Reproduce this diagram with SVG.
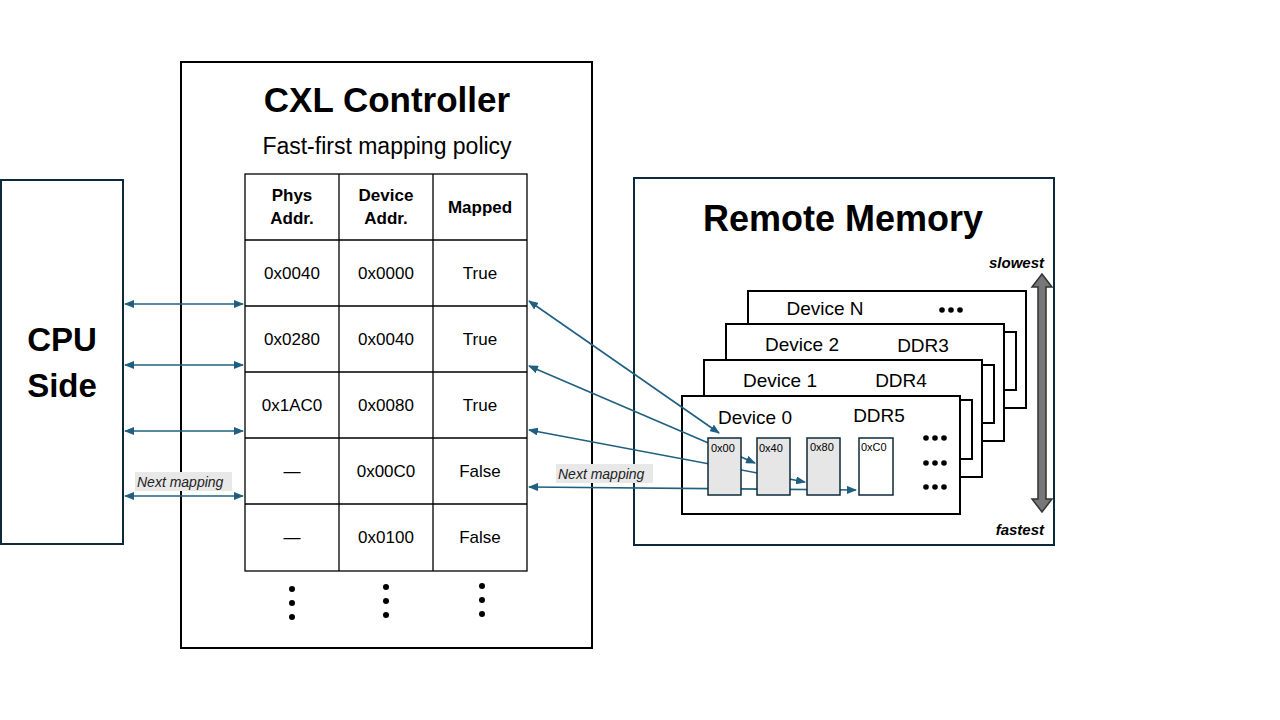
<svg xmlns="http://www.w3.org/2000/svg" width="1280" height="720" viewBox="0 0 1280 720">
<style>
text{font-family:"Liberation Sans",Arial,sans-serif;fill:#000}
.box{fill:#fff;stroke:#0d2a3a;stroke-width:2}
.bk{fill:#fff;stroke:#000;stroke-width:2}
.cell{fill:#fff;stroke:#000;stroke-width:1.3}
.mem{fill:#e6e6e6;stroke:#0d2a3a;stroke-width:1.5}
.c{stroke:#1f6080;stroke-width:1.6;fill:none;marker-end:url(#ah)}
.cc{stroke:#1f6080;stroke-width:1.6;fill:none;marker-end:url(#ah);marker-start:url(#as)}
.t{font-size:17px;text-anchor:middle}
.h{font-size:17px;font-weight:bold;text-anchor:middle}
.lbl{font-size:14px;font-style:italic;fill:#222}
</style>
<defs>
<marker id="ah" markerWidth="10" markerHeight="8" refX="9" refY="4" orient="auto" markerUnits="userSpaceOnUse"><path d="M0,0L10,4L0,8z" fill="#1f6080"/></marker>
<marker id="as" markerWidth="10" markerHeight="8" refX="1" refY="4" orient="auto" markerUnits="userSpaceOnUse"><path d="M10,0L0,4L10,8z" fill="#1f6080"/></marker>
</defs>
<rect width="1280" height="720" fill="#fff"/>
<g id="cpu"><rect class="box" x="1" y="180" width="122" height="364"/>
<text x="62" y="351" font-size="33" font-weight="bold" text-anchor="middle">CPU</text>
<text x="62" y="397" font-size="33" font-weight="bold" text-anchor="middle">Side</text></g>
<g id="controller"><rect class="bk" x="181" y="62" width="411" height="586"/>
<text x="387" y="112" font-size="35" font-weight="bold" text-anchor="middle">CXL Controller</text>
<text x="387" y="154" font-size="23" text-anchor="middle">Fast-first mapping policy</text>
<g id="table">
<rect class="cell" x="245" y="174" width="282" height="397"/>
<path d="M339,174V571M433,174V571M245,240H527M245,306H527M245,372H527M245,438H527M245,504H527" stroke="#000" stroke-width="1.3"/>
<text class="h" x="292" y="201">Phys</text><text class="h" x="292" y="224">Addr.</text>
<text class="h" x="386" y="201">Device</text><text class="h" x="386" y="224">Addr.</text>
<text class="h" x="480" y="213">Mapped</text>
<text class="t" x="292" y="279">0x0040</text><text class="t" x="386" y="279">0x0000</text><text class="t" x="480" y="279">True</text>
<text class="t" x="292" y="345">0x0280</text><text class="t" x="386" y="345">0x0040</text><text class="t" x="480" y="345">True</text>
<text class="t" x="292" y="411">0x1AC0</text><text class="t" x="386" y="411">0x0080</text><text class="t" x="480" y="411">True</text>
<text class="t" x="292" y="477">—</text><text class="t" x="386" y="477">0x00C0</text><text class="t" x="480" y="477">False</text>
<text class="t" x="292" y="543">—</text><text class="t" x="386" y="543">0x0100</text><text class="t" x="480" y="543">False</text>
</g>
<g fill="#000"><circle cx="292" cy="589" r="3"/><circle cx="292" cy="603" r="3"/><circle cx="292" cy="617" r="3"/>
<circle cx="386" cy="587" r="3"/><circle cx="386" cy="601" r="3"/><circle cx="386" cy="615" r="3"/>
<circle cx="482" cy="586" r="3"/><circle cx="482" cy="600" r="3"/><circle cx="482" cy="614" r="3"/></g>
</g>
<g id="remote"><rect class="box" x="634" y="178" width="420" height="367"/>
<text x="843" y="231" font-size="36" font-weight="bold" text-anchor="middle">Remote Memory</text>
<text x="1044" y="268" font-size="15" font-weight="bold" font-style="italic" text-anchor="end">slowest</text>
<text x="1044" y="535" font-size="15" font-weight="bold" font-style="italic" text-anchor="end">fastest</text>
<path d="M1042,274L1052,287H1046V499H1052L1042,512L1032,499H1038V287H1032Z" fill="#777" stroke="#333" stroke-width="1.5"/>
</g>
<g id="deviceN"><rect class="bk" x="748" y="291" width="278" height="117"/>
<text x="825" y="315" font-size="19" text-anchor="middle">Device N</text>
<g fill="#000"><circle cx="942" cy="310" r="2.8"/><circle cx="951" cy="310" r="2.8"/><circle cx="960" cy="310" r="2.8"/></g></g>
<g id="device2"><rect class="bk" x="994" y="332" width="22" height="58"/><rect class="bk" x="726" y="324" width="278" height="117"/>
<text x="802" y="351" font-size="19" text-anchor="middle">Device 2</text><text x="923" y="352" font-size="19" text-anchor="middle">DDR3</text></g>
<g id="device1"><rect class="bk" x="972" y="365" width="22" height="58"/><rect class="bk" x="704" y="360" width="278" height="117"/>
<text x="780" y="387" font-size="19" text-anchor="middle">Device 1</text><text x="901" y="387" font-size="19" text-anchor="middle">DDR4</text></g>
<g id="device0"><rect class="bk" x="950" y="400" width="22" height="59"/><rect class="bk" x="682" y="396" width="278" height="118"/>
<text x="755" y="424" font-size="19" text-anchor="middle">Device 0</text><text x="879" y="422" font-size="19" text-anchor="middle">DDR5</text>
<g fill="#000"><circle cx="926" cy="438" r="2.8"/><circle cx="935" cy="438" r="2.8"/><circle cx="944" cy="438" r="2.8"/>
<circle cx="926" cy="463" r="2.8"/><circle cx="935" cy="463" r="2.8"/><circle cx="944" cy="463" r="2.8"/>
<circle cx="926" cy="487" r="2.8"/><circle cx="935" cy="487" r="2.8"/><circle cx="944" cy="487" r="2.8"/></g></g>
<g id="connectors">
<path class="cc" d="M125,304H243"/><path class="cc" d="M125,365H243"/><path class="cc" d="M125,431H243"/><path class="cc" d="M125,496H243"/>
<path class="cc" d="M529,301L719,433"/>
<path class="cc" d="M529,366L755,463"/>
<path class="cc" d="M529,430L805,482"/>
<path class="cc" d="M529,487L856,490"/>
<rect x="135" y="472" width="97" height="19" fill="#e8e8e8"/><text class="lbl" x="137" y="487">Next mapping</text>
<rect x="556" y="464" width="97" height="19" fill="#e8e8e8"/><text class="lbl" x="558" y="479">Next mapping</text>
</g>
<g id="cells">
<rect class="mem" x="708" y="438" width="33" height="57"/><text x="711" y="452" font-size="11">0x00</text>
<rect class="mem" x="757" y="438" width="33" height="57"/><text x="759" y="452" font-size="11">0x40</text>
<rect class="mem" x="807" y="438" width="33" height="57"/><text x="810" y="451" font-size="11">0x80</text>
<rect x="859" y="438" width="34" height="57" fill="#fff" stroke="#0d2a3a" stroke-width="1.5"/><text x="861" y="451" font-size="11">0xC0</text>
</g>
</svg>
